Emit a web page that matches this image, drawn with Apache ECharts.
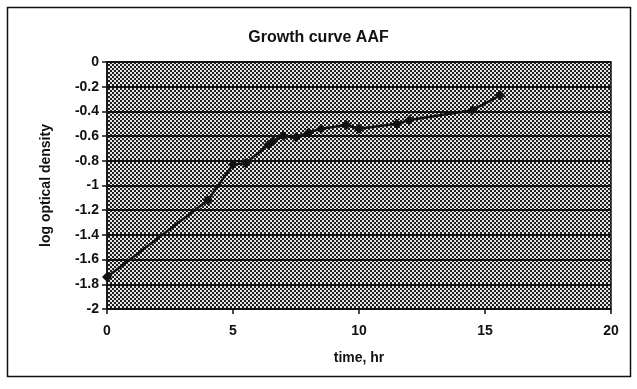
<!DOCTYPE html>
<html>
<head>
<meta charset="utf-8">
<script src="https://cdn.jsdelivr.net/npm/echarts@6/dist/echarts.min.js"></script>
<style>html,body{margin:0;padding:0;background:#fff;}#c{width:637px;height:389px;}</style>
</head>
<body>
<div id="c"></div>
<script>
var timeHr = [0, 4, 5, 5.5, 6.4, 6.6, 7, 7.5, 8, 8.5, 9.5, 10, 11.5, 12, 14.5, 15.6];
var logOD = [-1.74, -1.12, -0.83, -0.82, -0.67, -0.64, -0.6, -0.61, -0.57, -0.54, -0.51, -0.54, -0.5, -0.47, -0.39, -0.27];
var xTicks = [0, 5, 10, 15, 20];
var yTicks = [0, -0.2, -0.4, -0.6, -0.8, -1, -1.2, -1.4, -1.6, -1.8, -2];

var pc = document.createElement('canvas');
pc.width = 4; pc.height = 4;
var g = pc.getContext('2d');
g.fillStyle = '#e6e6e6'; g.fillRect(0,0,4,4);
g.fillStyle = '#1e1e1e';
g.fillRect(0,0,2,2); g.fillRect(2,2,2,2);

var chart = echarts.init(document.getElementById('c'));
var font = 'Liberation Sans, Arial, sans-serif';
chart.setOption({
  backgroundColor: '#fff',
  animation: false,
  title: {
    text: 'Growth curve AAF', left: 'center', top: 25,
    textStyle: {fontFamily: font, fontWeight: 'bold', fontSize: 16, color: '#111'}
  },
  graphic: [{type: 'rect', shape: {x: 7.5, y: 7.5, width: 623, height: 369}, style: {fill: 'none', stroke: '#111', lineWidth: 1.5}, z: -1}],
  grid: {left: 107, right: 26, top: 62, bottom: 80, show: true,
    backgroundColor: {image: pc, repeat: 'repeat'}, borderColor: '#111', borderWidth: 1.5},
  xAxis: {
    type: 'value', min: 0, max: 20, interval: 5,
    name: 'time, hr', nameLocation: 'middle', nameGap: 42,
    nameTextStyle: {fontFamily: font, fontWeight: 'bold', fontSize: 14, color: '#111'},
    axisLine: {onZero: false, lineStyle: {color: '#111', width: 1.5}},
    axisTick: {show: true, length: 5, lineStyle: {color: '#111', width: 1.5}},
    axisLabel: {fontFamily: font, fontWeight: 'bold', fontSize: 14, color: '#111', margin: 15,
      formatter: function(v){ return xTicks.indexOf(v) >= 0 ? String(v) : ''; }},
    splitLine: {show: false}
  },
  yAxis: {
    type: 'value', min: -2, max: 0, interval: 0.2,
    name: 'log optical density', nameLocation: 'middle', nameGap: 54, nameRotate: 90,
    nameTextStyle: {fontFamily: font, fontWeight: 'bold', fontSize: 14, color: '#111'},
    axisLine: {show: true, lineStyle: {color: '#111', width: 1.5}},
    axisTick: {show: true, length: 5, lineStyle: {color: '#111', width: 1.5}},
    axisLabel: {fontFamily: font, fontWeight: 'bold', fontSize: 14, color: '#111', margin: 8,
      formatter: function(v){ var r = Math.round(v*10)/10; return yTicks.indexOf(r) >= 0 ? String(r) : ''; }},
    splitLine: {show: true, lineStyle: {color: '#111', width: 2}}
  },
  series: [{
    type: 'line',
    data: timeHr.map(function(t, i){ return [t, logOD[i]]; }),
    symbol: 'diamond', symbolSize: 10,
    lineStyle: {color: '#111', width: 2.5},
    itemStyle: {color: '#111'}
  }]
});
</script>
</body>
</html>
